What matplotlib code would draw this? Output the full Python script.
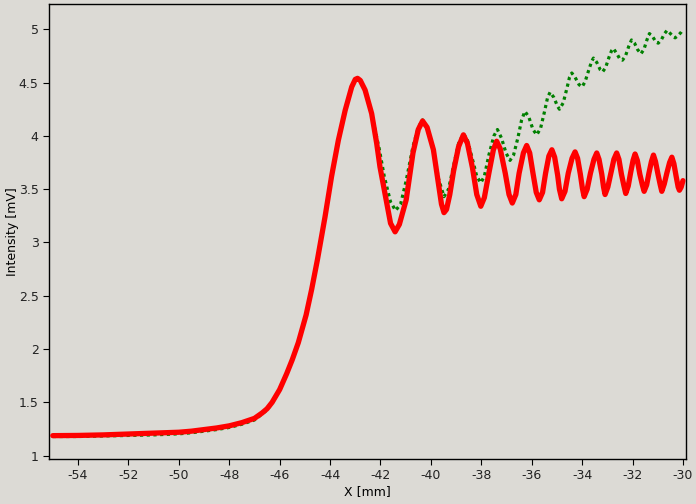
import matplotlib
matplotlib.use("Agg")
import matplotlib.pyplot as plt
from matplotlib.ticker import FormatStrFormatter, MultipleLocator

plt.rcParams["axes.unicode_minus"] = False

# red series (x in mm, intensity in mV)
red_x = [-55.0, -54.0, -53.0, -52.0, -51.0, -50.0, -49.5, -49.0, -48.5, -48.0,
         -47.5, -47.0, -46.7, -46.5, -46.3, -46.0, -45.72, -45.5, -45.26, -44.95,
         -44.73, -44.5, -44.2, -43.94, -43.67, -43.4, -43.14, -43.0, -42.91, -42.8,
         -42.61, -42.35, -42.15, -42.02, -41.75, -41.6, -41.42, -41.25, -40.98, -40.71,
         -40.5, -40.33, -40.15, -39.9, -39.72, -39.58, -39.48, -39.38, -39.25, -39.1,
         -38.9, -38.71,
         -38.55, -38.35, -38.18, -38.02, -37.88, -37.7, -37.52, -37.39, -37.25, -37.05,
         -36.9, -36.77, -36.63, -36.5, -36.33, -36.2, -36.08, -35.95, -35.82, -35.7,
         -35.57, -35.45, -35.32, -35.2, -35.09, -34.97, -34.9, -34.81, -34.68, -34.55,
         -34.4, -34.28, -34.18, -34.07, -33.99, -33.92, -33.8, -33.67, -33.53, -33.42,
         -33.33, -33.22, -33.15, -33.09, -32.98, -32.86, -32.74, -32.63, -32.54, -32.44,
         -32.34, -32.27, -32.17, -32.08, -31.98, -31.9, -31.81, -31.71, -31.61, -31.54,
         -31.44, -31.35, -31.25, -31.17, -31.09, -30.99, -30.9, -30.84, -30.74, -30.64,
         -30.53, -30.44, -30.36, -30.27, -30.19, -30.14, -30.07, -30.0]
red_y = [1.188, 1.19, 1.195, 1.203, 1.21, 1.22, 1.23, 1.245, 1.26, 1.28,
         1.31, 1.35, 1.40, 1.44, 1.50, 1.62, 1.77, 1.90, 2.06, 2.32,
         2.56, 2.84, 3.24, 3.62, 3.96, 4.24, 4.46, 4.53, 4.54, 4.52,
         4.43, 4.21, 3.93, 3.71, 3.37, 3.18, 3.10, 3.17, 3.40, 3.84,
         4.06, 4.14, 4.08, 3.87, 3.58, 3.36, 3.28, 3.31, 3.45, 3.67,
         3.90, 4.01,
         3.93, 3.70, 3.45, 3.34, 3.42, 3.65, 3.87, 3.95, 3.88, 3.65,
         3.45, 3.37, 3.45, 3.65, 3.84, 3.91, 3.84, 3.65, 3.47, 3.40,
         3.47, 3.65, 3.81, 3.87, 3.80, 3.63, 3.50, 3.41, 3.48, 3.65,
         3.79, 3.85, 3.79, 3.64, 3.51, 3.43, 3.50, 3.65, 3.78, 3.84,
         3.78, 3.64, 3.52, 3.45, 3.52, 3.65, 3.78, 3.84, 3.78, 3.64,
         3.53, 3.46, 3.53, 3.65, 3.77, 3.83, 3.77, 3.64, 3.54, 3.48,
         3.54, 3.65, 3.76, 3.82, 3.76, 3.64, 3.54, 3.48, 3.55, 3.65,
         3.75, 3.80, 3.74, 3.62, 3.52, 3.49, 3.52, 3.58]

# green series
green_x = [-55.0, -54.0, -53.0, -52.0, -51.0, -50.0, -49.5, -49.0, -48.5, -48.0,
           -47.5, -47.0, -46.7, -46.5, -46.3, -46.0, -45.72, -45.5, -45.26, -44.95,
           -44.73, -44.5, -44.2, -43.94, -43.67, -43.4, -43.14, -43.0, -42.91, -42.8,
           -42.6, -42.35, -42.05, -41.85, -41.6, -41.4, -41.2, -40.98, -40.71, -40.5,
           -40.33, -40.15, -39.9, -39.7, -39.48, -39.3, -39.1, -38.9, -38.71, -38.55,
           -38.35, -38.18, -38.02, -37.88, -37.7, -37.5, -37.36, -37.2, -37.02, -36.86,
           -36.72, -36.55, -36.4, -36.27, -36.12, -35.95, -35.8, -35.65, -35.5, -35.37,
           -35.27, -35.12, -34.98, -34.9, -34.75, -34.6, -34.5, -34.41, -34.28, -34.12,
           -34.0, -33.88, -33.72, -33.62, -33.55, -33.42, -33.28, -33.19, -33.07, -32.93,
           -32.83, -32.76, -32.62, -32.5, -32.4, -32.28, -32.15, -32.04, -31.92, -31.8,
           -31.67, -31.55, -31.43, -31.33, -31.2, -31.07, -30.98, -30.86, -30.73, -30.63,
           -30.5, -30.38, -30.31, -30.2, -30.08, -30.0]
green_y = [1.18, 1.18, 1.185, 1.19, 1.195, 1.205, 1.215, 1.23, 1.245, 1.265,
           1.295, 1.335, 1.39, 1.43, 1.49, 1.62, 1.77, 1.90, 2.06, 2.32,
           2.56, 2.84, 3.24, 3.62, 3.96, 4.24, 4.46, 4.52, 4.53, 4.51,
           4.42, 4.20, 3.88, 3.62, 3.38, 3.30, 3.36, 3.58, 3.90, 4.08,
           4.15, 4.08, 3.88, 3.60, 3.43, 3.50, 3.72, 3.93, 4.02, 3.96,
           3.78, 3.62, 3.56, 3.62, 3.82, 4.00, 4.06, 3.98, 3.84, 3.77,
           3.82, 3.98, 4.15, 4.23, 4.18, 4.06, 4.01, 4.07, 4.22, 4.36,
           4.41, 4.36, 4.28, 4.25, 4.31, 4.45, 4.55, 4.59, 4.55, 4.48,
           4.46, 4.51, 4.63, 4.70, 4.73, 4.69, 4.62, 4.60, 4.64, 4.74,
           4.80, 4.82, 4.77, 4.72, 4.71, 4.75, 4.84, 4.90, 4.87, 4.81,
           4.77, 4.81, 4.90, 4.96, 4.93, 4.88, 4.87, 4.90, 4.96, 4.99,
           4.96, 4.93, 4.92, 4.94, 4.97, 5.0]

BG = "#dcdad5"

fig = plt.figure(figsize=(6.96, 5.04), dpi=100, facecolor=BG)
ax = fig.add_axes([0.0704, 0.0893, 0.9152, 0.9027], facecolor=BG)

ax.plot(green_x, green_y, color="#008000", lw=2.3, ls=(0, (1, 1.1)),
        dash_capstyle="butt", zorder=2)
ax.plot(red_x, red_y, color="#ff0000", lw=3.8, solid_capstyle="round",
        solid_joinstyle="round", zorder=3)

ax.set_xlim(-55.15, -29.88)
ax.set_ylim(0.969, 5.237)
ax.xaxis.set_major_locator(MultipleLocator(2))
ax.yaxis.set_major_locator(MultipleLocator(0.5))
ax.yaxis.set_major_formatter(FormatStrFormatter("%g"))
ax.tick_params(labelsize=9, length=4, color="black", labelcolor="#222222")

ax.set_xlabel("X [mm]", fontsize=9, labelpad=2)
ax.set_ylabel("Intensity [mV]", fontsize=9, labelpad=0)

for s in ax.spines.values():
    s.set_color("black")
    s.set_linewidth(1.0)

fig.savefig("out.png", dpi=100, facecolor=BG)
